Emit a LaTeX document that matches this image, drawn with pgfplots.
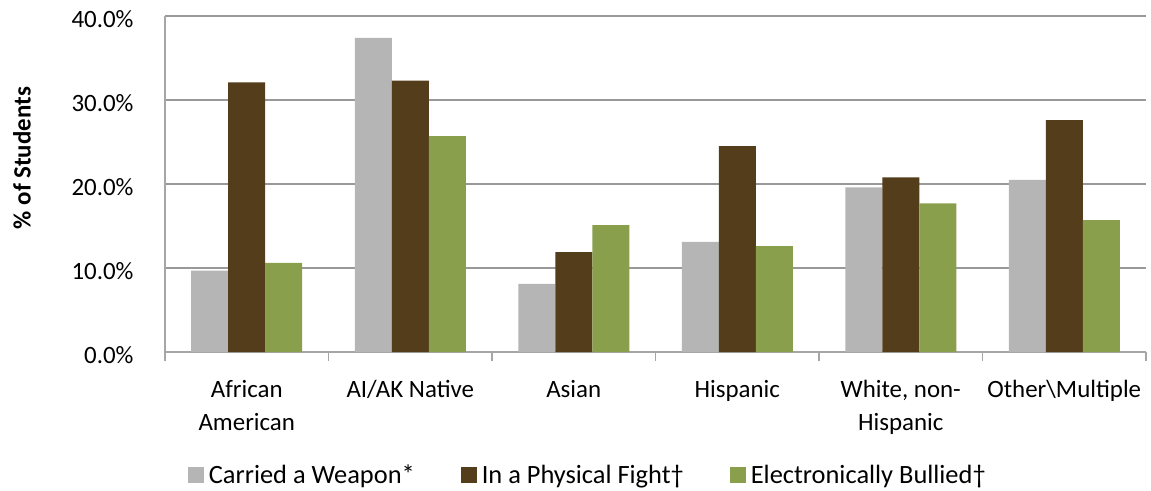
\documentclass[border=0pt]{standalone}
\usepackage{pgfplots}
\pgfplotsset{compat=1.18}
\usepackage{fontspec}
\setmainfont{Carlito}
\definecolor{cgray}{HTML}{B5B5B5}
\definecolor{cbrown}{HTML}{543D1A}
\definecolor{cgreen}{HTML}{8A9F4B}
\definecolor{cgrid}{HTML}{999999}
\definecolor{caxis}{HTML}{A6A6A6}
\begin{document}
\begin{tikzpicture}
\begin{axis}[
  at={(0,0)}, anchor=south west,
  scale only axis,
  width=981bp, height=336bp,
  ybar=0pt, bar width=37bp,
  xmin=-0.5, xmax=5.5,
  ymin=0, ymax=40,
  xtick={0,1,2,3,4,5},
  xticklabels={{African\\American},{AI/AK Native},{Asian},{Hispanic},{White, non-\\Hispanic},{Other\textbackslash Multiple}},
  minor xtick={-0.5,0.5,1.5,2.5,3.5,4.5,5.5},
  major x tick style={draw=none},
  minor tick length=9bp,
  tick align=outside,
  xtick pos=bottom, ytick pos=left,
  ytick={0,10,20,30,40},
  major y tick style={draw=none},
  yticklabel={\pgfmathprintnumber[fixed,fixed zerofill,precision=1]{\tick}\%},
  /pgf/number format/assume math mode=true,
  ymajorgrids,
  grid style={cgrid, line width=1.2bp},
  minor tick style={caxis, line width=1.2bp},
  axis x line*=bottom, axis y line*=left,
  axis line style={caxis, line width=1.2bp, -},
  xticklabel style={font=\fontsize{25}{33}\selectfont, align=center, inner sep=0pt, anchor=north, yshift=-24bp},
  yticklabel style={font=\fontsize{25}{30}\selectfont, inner sep=0pt, anchor=east, xshift=-27bp, yshift=-3bp},
  ylabel={\textbf{\% of Students}},
  every axis y label/.style={at={(axis description cs:-0.1458,0.577)}, rotate=90, anchor=center, font=\fontsize{25}{30}\selectfont},
  legend columns=3,
  legend style={draw=none, fill=none, at={(axis description cs:0.430,-0.366)}, anchor=center,
    font=\fontsize{26.5}{30}\selectfont,
    /tikz/every odd column/.append style={column sep=5bp},
    /tikz/every even column/.append style={column sep=46bp},
    nodes={inner sep=0pt}},
  legend image code/.code={\fill[#1,draw=none] (0bp,-8bp) rectangle (16bp,8bp);},
]
\addplot[fill=cgray, draw=none] coordinates {(0,9.7) (1,37.4) (2,8.1) (3,13.1) (4,19.6) (5,20.5)};
\addplot[fill=cbrown, draw=none] coordinates {(0,32.1) (1,32.3) (2,11.9) (3,24.5) (4,20.8) (5,27.6)};
\addplot[fill=cgreen, draw=none] coordinates {(0,10.6) (1,25.7) (2,15.1) (3,12.6) (4,17.7) (5,15.7)};
\legend{Carried a Weapon*, In a Physical Fight†, Electronically Bullied†}
\end{axis}
\pgfresetboundingbox
\path[use as bounding box] (-165bp,-139bp) rectangle (986bp,352bp);
\end{tikzpicture}
\end{document}
